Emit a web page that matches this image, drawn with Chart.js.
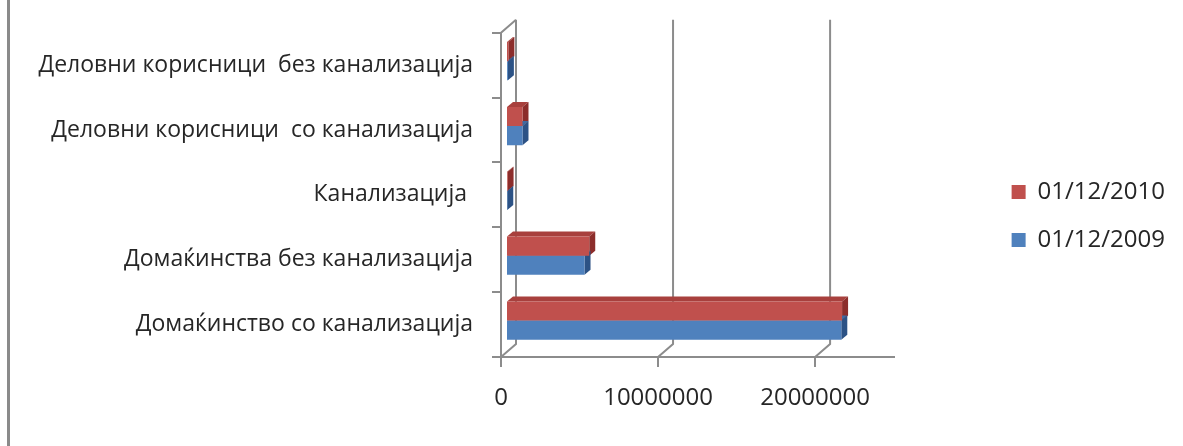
<!DOCTYPE html>
<html>
<head>
<meta charset="utf-8">
<script src="https://cdn.jsdelivr.net/npm/chart.js@4.4.1/dist/chart.umd.min.js"></script>
<style>
  html, body { margin: 0; padding: 0; background: #fff; }
  #wrap { position: relative; width: 1183px; height: 446px; }
  #frame { position: absolute; left: 7px; top: 0; width: 3px; height: 446px; background: #8a8a8a; }
  canvas { position: absolute; left: 0; top: 0; }
</style>
</head>
<body>
<div id="wrap">
  <canvas id="myChart" width="1183" height="446"></canvas>
  <div id="frame"></div>
</div>
<script>
const categories = [
  "Деловни корисници  без канализација",
  "Деловни корисници  со канализација",
  "Канализација ",
  "Домаќинства без канализација",
  "Домаќинство со канализација"
];
const seriesLabels = ["01/12/2010", "01/12/2009"];
const values2010 = [150000, 1050000, 100000, 5300000, 21400000];
const values2009 = [120000, 1050000, 80000, 5000000, 21350000];
const xTicks = [0, 10000000, 20000000];
const xMax = 25000000;

const red = '#c0504d', blue = '#4f81bd';
const faces = {
  [red]: { top: '#a8403d', side: '#8c2d2b' },
  [blue]: { top: '#3d6aa3', side: '#2c5285' }
};
const axisColor = '#8c8c8c';
const textColor = '#262626';
const depth = { dx: 15, dy: 13 };      // wall depth
const barDepth = { dx: 6, dy: 5 };     // bar depth
const barShift = { dx: 5, dy: -4 };    // bars sit in the middle plane

const threeD = {
  id: 'threeD',
  beforeDatasetsDraw(chart) {
    const { ctx, chartArea: a, scales: { x } } = chart;
    ctx.save();
    ctx.strokeStyle = axisColor;
    ctx.lineWidth = 2;
    ctx.beginPath();
    // left wall top edge
    ctx.moveTo(a.left, a.top);
    ctx.lineTo(a.left + depth.dx, a.top - depth.dy);
    xTicks.forEach(v => {
      const px = x.getPixelForValue(v);
      ctx.moveTo(px, a.bottom);
      ctx.lineTo(px + depth.dx, a.bottom - depth.dy);
      ctx.lineTo(px + depth.dx, a.top - depth.dy);
    });
    ctx.stroke();
    ctx.restore();

    // bar depth faces, drawn before the front faces
    ctx.save();
    ctx.translate(barShift.dx, barShift.dy);
    chart.data.datasets.forEach((ds, i) => {
      const meta = chart.getDatasetMeta(i);
      meta.data.forEach(bar => {
        const { x: bx, y: by, base, height } = bar.getProps(['x', 'y', 'base', 'height'], true);
        const top = by - height / 2, bottom = by + height / 2;
        const f = faces[ds.backgroundColor];
        ctx.fillStyle = f.top;
        ctx.beginPath();
        ctx.moveTo(base, top);
        ctx.lineTo(base + barDepth.dx, top - barDepth.dy);
        ctx.lineTo(bx + barDepth.dx, top - barDepth.dy);
        ctx.lineTo(bx, top);
        ctx.closePath();
        ctx.fill();
        ctx.fillStyle = f.side;
        ctx.beginPath();
        ctx.moveTo(bx, top);
        ctx.lineTo(bx + barDepth.dx, top - barDepth.dy);
        ctx.lineTo(bx + barDepth.dx, bottom - barDepth.dy);
        ctx.lineTo(bx, bottom);
        ctx.closePath();
        ctx.fill();
      });
    });
    ctx.restore();
    ctx.save();
    ctx.translate(barShift.dx, barShift.dy);
  },
  afterDatasetsDraw(chart) {
    const { ctx, chartArea: a } = chart;
    ctx.restore();
    ctx.save();
    ctx.strokeStyle = axisColor;
    ctx.lineWidth = 2;
    ctx.beginPath();
    ctx.moveTo(a.left, a.top);
    ctx.lineTo(a.left, a.bottom + 10);
    ctx.stroke();
    ctx.restore();
  }
};

const ctx = document.getElementById('myChart').getContext('2d');
const myChart = new Chart(ctx, {
  type: 'bar',
  data: {
    labels: categories,
    datasets: [{
      label: seriesLabels[0],
      data: values2010,
      backgroundColor: red,
      borderWidth: 0
    }, {
      label: seriesLabels[1],
      data: values2009,
      backgroundColor: blue,
      borderWidth: 0
    }]
  },
  options: {
    indexAxis: 'y',
    responsive: false,
    animation: false,
    devicePixelRatio: 1,
    categoryPercentage: 0.59,
    barPercentage: 1.0,
    layout: { padding: { left: 0, top: 25, right: 8, bottom: 39 } },
    plugins: {
      tooltip: { enabled: false },
      legend: {
        position: 'right',
        labels: {
          boxWidth: 14,
          boxHeight: 14,
          padding: 24,
          color: textColor,
          font: { family: '"Open Sans"', size: 24 }
        }
      }
    },
    scales: {
      x: {
        min: 0,
        max: xMax,
        afterBuildTicks: s => { s.ticks = xTicks.map(v => ({ value: v })); },
        afterFit: s => { s.height = 50; },
        grid: { drawOnChartArea: false, drawTicks: true, tickLength: 10, color: axisColor, lineWidth: 2 },
        border: { display: true, color: axisColor, width: 2 },
        ticks: {
          padding: 17,
          color: textColor,
          maxRotation: 0,
          callback: v => String(v),
          font: { family: '"Open Sans"', size: 24 }
        }
      },
      y: {
        afterFit: s => { s.width = 501; },
        grid: { offset: true, drawOnChartArea: false, drawTicks: true, tickLength: 9, color: axisColor, lineWidth: 2 },
        border: { display: false },
        ticks: {
          padding: 19,
          color: textColor,
          font: { family: '"Open Sans"', size: 23 }
        }
      },
      gap: {
        type: 'linear',
        position: 'right',
        display: true,
        grid: { display: false },
        border: { display: false },
        ticks: { display: false },
        afterFit: s => { s.width = 94; }
      }
    }
  },
  plugins: [threeD]
});
</script>
</body>
</html>
